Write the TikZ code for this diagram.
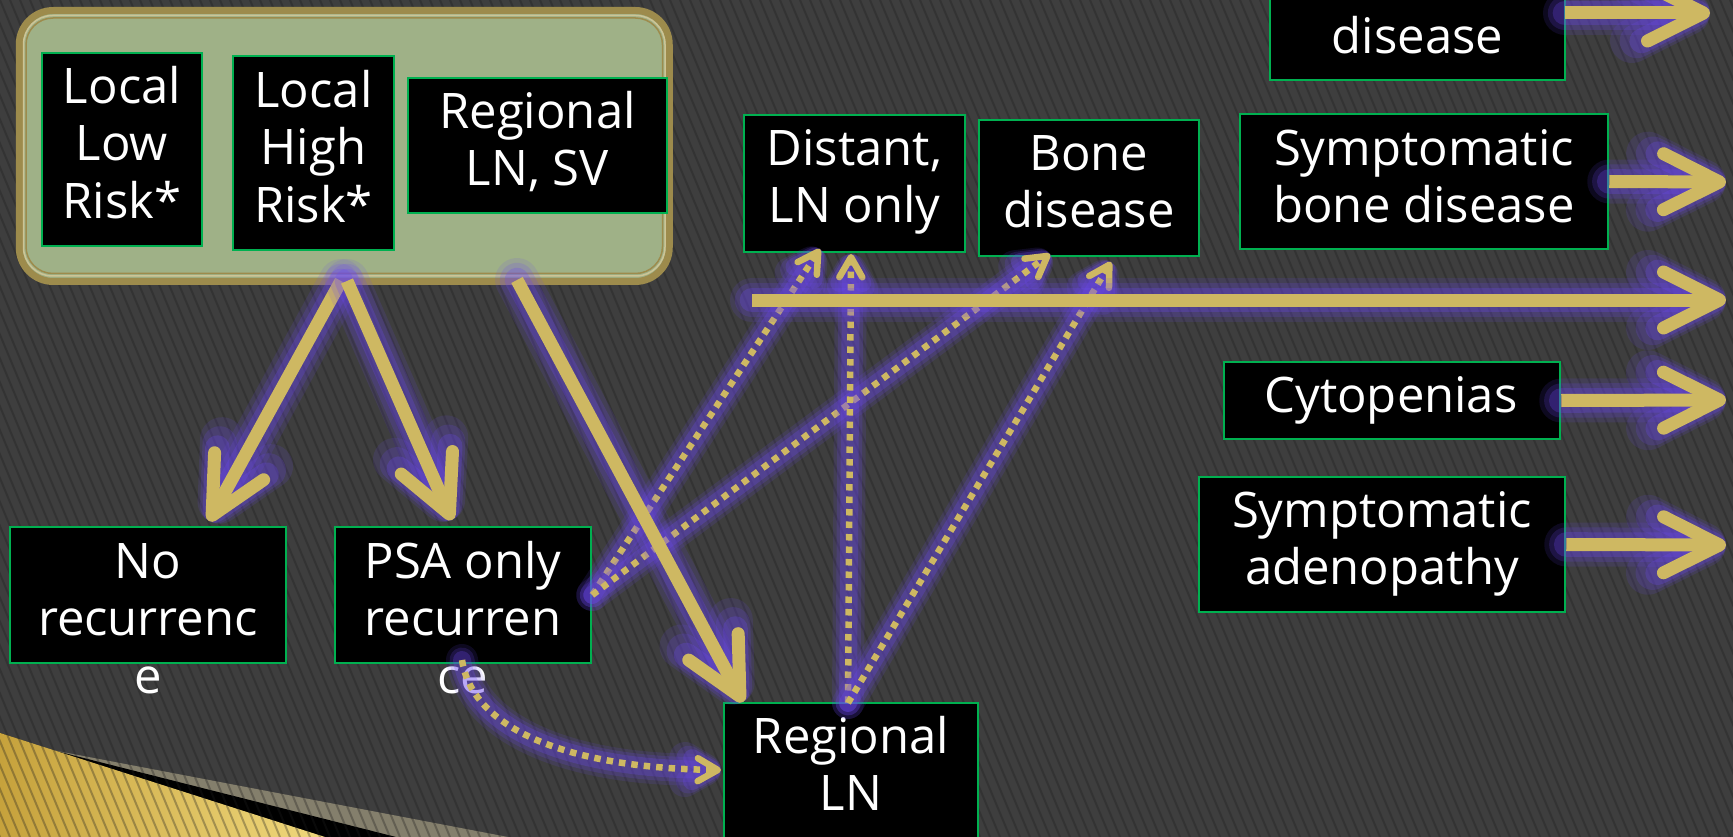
\documentclass[tikz,border=0pt]{standalone}
\usepackage{fontspec}
\setmainfont{Open Sans}
\usetikzlibrary{arrows.meta,calc}

\definecolor{bgc}{RGB}{62,62,62}
\definecolor{stripec}{RGB}{30,30,30}
\definecolor{goldc}{RGB}{206,184,98}
\definecolor{glowc}{RGB}{108,72,240}
\definecolor{boxgreen}{RGB}{0,176,80}
\definecolor{sage}{RGB}{159,177,135}
\definecolor{framegold}{RGB}{157,139,76}
\definecolor{framelight}{RGB}{205,196,150}
\definecolor{wedgegoldA}{RGB}{198,162,60}
\definecolor{wedgegoldB}{RGB}{240,216,124}
\definecolor{wedgegrey}{RGB}{132,127,108}

\tikzset{
  bx/.style={draw=boxgreen, fill=black, line width=2.5pt, inner sep=0pt},
  lbl/.style={anchor=north, align=center, inner sep=0pt, text=white,
              font=\fontsize{49}{57.5}\selectfont},
  bigtip/.style={-{Straight Barb[length=56pt,width=56pt,round]}},
  smalltip/.style={-{Straight Barb[length=20pt,width=23pt,round]}},
  solidarrow/.style={draw=goldc, line width=13pt},
  dotarrow/.style={draw=goldc, line width=6.5pt, dash pattern=on 6.5pt off 6pt},
  glowline/.style={draw=glowc, line cap=round, line join=round},
}

% purple halo under a gold connector: #1 tip, #2 stroke style, #3 halo width, #4 path
\newcommand\glowdraw[4]{%
  \draw[glowline, line width=#3, opacity=0.13, #1] #4;
  \draw[glowline, line width=0.78*#3, opacity=0.18, #1] #4;
  \draw[glowline, line width=0.56*#3, opacity=0.26, #1] #4;
  \draw[#2, #1] #4;}

% text block: name, centre x, first baseline, lines
\newcommand\boxtext[4]{\node[lbl] (#1) at (#2,#3-40.25) {\strut #4};}

\begin{document}
\begin{tikzpicture}[x=1pt,y=-1pt]
\useasboundingbox (0,0) rectangle (1733,837);
\clip (0,0) rectangle (1733,837);

% background with corner wedge and diagonal texture
\fill[bgc] (0,0) rectangle (1733,837);
\fill[wedgegrey] (0,733) -- (52,750) -- (508,837) -- (0,837) -- cycle;
\fill[black] (0,733) -- (52,750) -- (396,837) -- (0,837) -- cycle;
\shade[left color=wedgegoldA, right color=wedgegoldB] (0,733) -- (325,837) -- (0,837) -- cycle;
\foreach \i in {-45,...,175}
  \draw[stripec, line width=2pt, opacity=0.32] (\i*10,0) -- ++(350,837);

% grouping frame for the initial states
\node[draw=framegold, line width=7pt, fill=sage, rounded corners=34pt,
      minimum width=650pt, minimum height=271pt, inner sep=0pt] (grp) at (344.25,146) {};
\draw[framelight, line width=1.5pt, rounded corners=29pt] (23.5,15.5) rectangle (665,276);
\draw[framegold, line width=1.5pt, rounded corners=27pt] (26,18) rectangle (662.5,273.5);

% boxes
\node[bx, minimum width=295pt, minimum height=140pt] (dis)   at (1417.5,10)  {};
\node[bx, minimum width=368pt, minimum height=135pt] (sbd)   at (1424,181.5) {};
\node[bx, minimum width=336pt, minimum height=77pt]  (cyto)  at (1392,400.5) {};
\node[bx, minimum width=366pt, minimum height=135pt] (sad)   at (1382,544.5) {};
\node[bx, minimum width=221pt, minimum height=137pt] (dist)  at (854.5,183.5) {};
\node[bx, minimum width=220pt, minimum height=136pt] (bone)  at (1089,188)   {};
\node[bx, minimum width=160pt, minimum height=193pt] (llr)   at (122,149.5)  {};
\node[bx, minimum width=161pt, minimum height=194pt] (lhr)   at (313.5,153)  {};
\node[bx, minimum width=259pt, minimum height=135pt] (rsv)   at (537.5,145.5) {};
\node[bx, minimum width=276pt, minimum height=136pt] (norec) at (148,595)    {};
\node[bx, minimum width=256pt, minimum height=136pt] (psa)   at (463,595)    {};
\node[bx, minimum width=254pt, minimum height=177pt] (rln)   at (851,791.5)  {};

% box texts
\boxtext{dis-t}{1417.5}{53}{disease}
\boxtext{sbd-t}{1424}{165}{Symptomatic\\bone disease}
\boxtext{cyto-t}{1391}{412}{Cytopenias}
\boxtext{sad-t}{1382}{527}{Symptomatic\\adenopathy}
\boxtext{dist-t}{854.5}{165}{Distant,\\LN only}
\boxtext{bone-t}{1089}{170}{Bone\\disease}
\boxtext{llr-t}{122}{103}{Local\\Low\\Risk*}
\boxtext{lhr-t}{313.5}{107}{Local\\High\\Risk*}
\boxtext{rsv-t}{537.5}{128}{Regional\\LN, SV}
\boxtext{norec-t}{148}{578}{No\\recurrenc\\e}
\boxtext{psa-t}{463}{578}{PSA only\\recurren\\ce}
\boxtext{rln-t}{851}{753}{Regional\\LN}

% connector end points
\coordinate (s1a) at (341,281);   \coordinate (s1b) at (209,521);
\coordinate (s2a) at (347,281);   \coordinate (s2b) at (452,520);
\coordinate (s3a) at (517,280);   \coordinate (s3b) at (743,702);
\coordinate (r0a) at (1565,13);   \coordinate (r0b) at (1710,13);
\coordinate (r1b) at (1726,182);
\coordinate (r2a) at (752,300);   \coordinate (r2b) at (1726,300);
\coordinate (r3b) at (1726,400);
\coordinate (r4b) at (1726,545);
\coordinate (d1b) at (820,249);
\coordinate (d2b) at (1050,254);
\coordinate (d3a) at (848,703);   \coordinate (d3b) at (851,254);
\coordinate (d4b) at (1111,262);
\coordinate (d5a) at (462,660);   \coordinate (d5b) at (721,770);

% dotted transitions
\glowdraw{smalltip}{dotarrow}{32pt}{(psa.east) -- (d1b)}
\glowdraw{smalltip}{dotarrow}{32pt}{(psa.east) -- (d2b)}
\glowdraw{smalltip}{dotarrow}{32pt}{(d3a) -- (d3b)}
\glowdraw{smalltip}{dotarrow}{32pt}{(d3a) -- (d4b)}
\glowdraw{smalltip}{dotarrow}{32pt}{(d5a) .. controls (472,728) and (565,768) .. (d5b)}

% solid transitions
\glowdraw{bigtip}{solidarrow}{44pt}{(s1a) -- (s1b)}
\glowdraw{bigtip}{solidarrow}{44pt}{(s2a) -- (s2b)}
\glowdraw{bigtip}{solidarrow}{44pt}{(s3a) -- (s3b)}
\glowdraw{bigtip}{solidarrow}{44pt}{(r0a) -- (r0b)}
\glowdraw{bigtip}{solidarrow}{44pt}{(sbd.east) -- (r1b)}
\glowdraw{bigtip}{solidarrow}{44pt}{(r2a) -- (r2b)}
\glowdraw{bigtip}{solidarrow}{44pt}{(cyto.east) -- (r3b)}
\glowdraw{bigtip}{solidarrow}{44pt}{(sad.east) -- (r4b)}
\end{tikzpicture}
\end{document}
